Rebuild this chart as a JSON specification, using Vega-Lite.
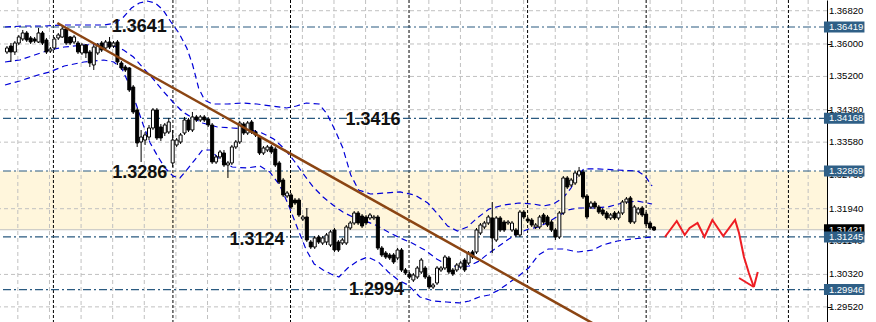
{
"$schema": "https://vega.github.io/schema/vega-lite/v6.json",
"width": 827, "height": 322, "padding": {"left": 0, "top": 0, "right": 49, "bottom": 0}, "autosize": "none",
"background": "white",
"config": {"view": {"stroke": null}, "font": "Liberation Sans"},
"datasets": {
"zone": [{"top": 1.32869, "bottom": 1.31421}],
"ticks": [{"p":1.3682},{"p":1.36},{"p":1.352},{"p":1.3438},{"p":1.3358},{"p":1.3276},{"p":1.3194},{"p":1.3114},{"p":1.3032},{"p":1.2952}],
"hgrid": [{"p":1.3682},{"p":1.36},{"p":1.352},{"p":1.3438},{"p":1.3358},{"p":1.3194},{"p":1.3032},{"p":1.2952}],
"vgrid": [{"i":2.75},{"i":10.77},{"i":18.78},{"i":26.79},{"i":34.8},{"i":42.82},{"i":50.83},{"i":58.84},{"i":66.85},{"i":74.87},{"i":82.88},{"i":90.89},{"i":98.9},{"i":106.92},{"i":114.93},{"i":122.94},{"i":130.95},{"i":138.96},{"i":146.98},{"i":154.99},{"i":163.0},{"i":171.01},{"i":179.03},{"i":187.04},{"i":195.05},{"i":203.06}],
"seps": [{"i":11.77},{"i":42.06},{"i":71.86},{"i":101.9},{"i":131.95},{"i":162.0},{"i":198.06}],
"bid": [{"p":1.31421,"t":"1.31421"}],
"levels": [{"p":1.36419,"t":"1.36419"},{"p":1.34168,"t":"1.34168"},{"p":1.32869,"t":"1.32869"},{"p":1.31245,"t":"1.31245"},{"p":1.29946,"t":"1.29946"}],
"trend": [{"i":12.77,"p":1.36517},{"i":148.48,"p":1.29115}],
"arrow": [
{"s":"z","k":1,"i":166.76,"p":1.31242},{"s":"z","k":2,"i":169.76,"p":1.31637},{"s":"z","k":3,"i":171.77,"p":1.31292},{"s":"z","k":4,"i":173.02,"p":1.31464},{"s":"z","k":5,"i":175.02,"p":1.31587},{"s":"z","k":6,"i":176.77,"p":1.31242},{"s":"z","k":7,"i":178.78,"p":1.31661},{"s":"z","k":8,"i":181.53,"p":1.31267},{"s":"z","k":9,"i":184.54,"p":1.31661},{"s":"z","k":10,"i":185.54,"p":1.31341},{"s":"z","k":11,"i":186.79,"p":1.30749},{"s":"z","k":12,"i":188.04,"p":1.30355},{"s":"z","k":13,"i":189.29,"p":1.30010},
{"s":"a","k":1,"i":185.54,"p":1.30232},{"s":"a","k":2,"i":189.29,"p":1.30010},
{"s":"b","k":1,"i":190.29,"p":1.30380},{"s":"b","k":2,"i":189.29,"p":1.30010}],
"labels": [{"i":33.55,"p":1.36296,"t":"1.3641"},{"i":92.77,"p":1.34003,"t":"1.3416"},{"i":33.68,"p":1.32697,"t":"1.3286"},{"i":63.35,"p":1.31045,"t":"1.3124"},{"i":93.64,"p":1.29813,"t":"1.2994"}],
"bands": [
{"b":"u","i":-0.5,"p":1.36418},{"b":"u","i":4.51,"p":1.36443},{"b":"u","i":9.51,"p":1.36443},{"b":"u","i":14.52,"p":1.36468},{"b":"u","i":19.53,"p":1.36468},{"b":"u","i":24.54,"p":1.36468},{"b":"u","i":27.54,"p":1.36517},{"b":"u","i":29.54,"p":1.36665},{"b":"u","i":31.55,"p":1.36887},{"b":"u","i":33.55,"p":1.3701},{"b":"u","i":35.55,"p":1.37059},{"b":"u","i":37.56,"p":1.3701},{"b":"u","i":39.56,"p":1.36838},{"b":"u","i":41.56,"p":1.36542},{"b":"u","i":43.57,"p":1.36271},{"b":"u","i":45.57,"p":1.35901},{"b":"u","i":47.07,"p":1.35482},{"b":"u","i":48.57,"p":1.34915},{"b":"u","i":50.08,"p":1.34619},{"b":"u","i":52.08,"p":1.3452},{"b":"u","i":55.83,"p":1.3452},{"b":"u","i":59.59,"p":1.34545},{"b":"u","i":63.35,"p":1.3452},{"b":"u","i":67.1,"p":1.34471},{"b":"u","i":70.86,"p":1.34422},{"b":"u","i":73.36,"p":1.34471},{"b":"u","i":75.86,"p":1.34545},{"b":"u","i":79.12,"p":1.3452},{"b":"u","i":81.12,"p":1.34274},{"b":"u","i":83.12,"p":1.3388},{"b":"u","i":85.13,"p":1.33436},{"b":"u","i":87.13,"p":1.32771},{"b":"u","i":89.13,"p":1.32401},{"b":"u","i":92.14,"p":1.32302},{"b":"u","i":95.89,"p":1.32327},{"b":"u","i":99.65,"p":1.32352},{"b":"u","i":103.4,"p":1.32278},{"b":"u","i":106.66,"p":1.3208},{"b":"u","i":109.16,"p":1.31809},{"b":"u","i":111.67,"p":1.31513},{"b":"u","i":114.17,"p":1.3139},{"b":"u","i":116.68,"p":1.31489},{"b":"u","i":119.18,"p":1.31711},{"b":"u","i":122.18,"p":1.31932},{"b":"u","i":125.94,"p":1.32031},{"b":"u","i":129.69,"p":1.3208},{"b":"u","i":133.45,"p":1.32056},{"b":"u","i":135.95,"p":1.32006},{"b":"u","i":138.46,"p":1.32056},{"b":"u","i":140.96,"p":1.32204},{"b":"u","i":142.96,"p":1.3245},{"b":"u","i":144.72,"p":1.32771},{"b":"u","i":146.22,"p":1.32919},{"b":"u","i":149.72,"p":1.32919},{"b":"u","i":154.73,"p":1.32894},{"b":"u","i":159.74,"p":1.3287},{"b":"u","i":161.74,"p":1.32746},{"b":"u","i":163.5,"p":1.32499},
{"b":"m","i":-0.5,"p":1.35556},{"b":"m","i":3.25,"p":1.35605},{"b":"m","i":7.01,"p":1.35729},{"b":"m","i":10.77,"p":1.35852},{"b":"m","i":14.52,"p":1.35925},{"b":"m","i":19.53,"p":1.35975},{"b":"m","i":24.54,"p":1.35999},{"b":"m","i":27.04,"p":1.3595},{"b":"m","i":29.54,"p":1.35852},{"b":"m","i":32.05,"p":1.35679},{"b":"m","i":34.55,"p":1.35408},{"b":"m","i":37.06,"p":1.35137},{"b":"m","i":39.56,"p":1.34841},{"b":"m","i":42.06,"p":1.3457},{"b":"m","i":44.57,"p":1.34324},{"b":"m","i":47.07,"p":1.34176},{"b":"m","i":49.57,"p":1.34052},{"b":"m","i":53.33,"p":1.33954},{"b":"m","i":57.09,"p":1.33929},{"b":"m","i":60.84,"p":1.33905},{"b":"m","i":64.6,"p":1.33806},{"b":"m","i":67.6,"p":1.33658},{"b":"m","i":70.11,"p":1.33436},{"b":"m","i":72.61,"p":1.3314},{"b":"m","i":75.11,"p":1.32796},{"b":"m","i":77.62,"p":1.32475},{"b":"m","i":80.12,"p":1.32228},{"b":"m","i":82.62,"p":1.32031},{"b":"m","i":85.13,"p":1.31858},{"b":"m","i":87.63,"p":1.31735},{"b":"m","i":90.14,"p":1.31661},{"b":"m","i":93.39,"p":1.31538},{"b":"m","i":96.64,"p":1.31366},{"b":"m","i":99.65,"p":1.31218},{"b":"m","i":102.65,"p":1.31094},{"b":"m","i":105.91,"p":1.30922},{"b":"m","i":108.91,"p":1.307},{"b":"m","i":111.67,"p":1.30552},{"b":"m","i":114.67,"p":1.30503},{"b":"m","i":117.18,"p":1.30527},{"b":"m","i":119.68,"p":1.30651},{"b":"m","i":122.18,"p":1.30848},{"b":"m","i":124.69,"p":1.3102},{"b":"m","i":127.19,"p":1.31193},{"b":"m","i":129.69,"p":1.31341},{"b":"m","i":132.2,"p":1.31439},{"b":"m","i":134.7,"p":1.31489},{"b":"m","i":137.21,"p":1.31612},{"b":"m","i":139.71,"p":1.3176},{"b":"m","i":142.21,"p":1.31908},{"b":"m","i":144.72,"p":1.31957},{"b":"m","i":148.47,"p":1.31957},{"b":"m","i":152.23,"p":1.31982},{"b":"m","i":155.98,"p":1.3208},{"b":"m","i":159.74,"p":1.3213},{"b":"m","i":163.5,"p":1.32056},
{"b":"l","i":-0.5,"p":1.34989},{"b":"l","i":3.25,"p":1.35087},{"b":"l","i":7.01,"p":1.35211},{"b":"l","i":10.77,"p":1.3531},{"b":"l","i":14.52,"p":1.35457},{"b":"l","i":19.53,"p":1.35556},{"b":"l","i":24.54,"p":1.35605},{"b":"l","i":27.04,"p":1.35556},{"b":"l","i":29.04,"p":1.35408},{"b":"l","i":31.05,"p":1.34989},{"b":"l","i":32.8,"p":1.34496},{"b":"l","i":34.55,"p":1.34003},{"b":"l","i":36.3,"p":1.3356},{"b":"l","i":38.31,"p":1.33215},{"b":"l","i":40.06,"p":1.32943},{"b":"l","i":42.06,"p":1.32746},{"b":"l","i":43.82,"p":1.32697},{"b":"l","i":45.57,"p":1.32894},{"b":"l","i":47.57,"p":1.3314},{"b":"l","i":49.57,"p":1.33387},{"b":"l","i":51.58,"p":1.33387},{"b":"l","i":54.08,"p":1.3314},{"b":"l","i":57.09,"p":1.32968},{"b":"l","i":60.84,"p":1.32943},{"b":"l","i":64.1,"p":1.32993},{"b":"l","i":66.6,"p":1.32845},{"b":"l","i":69.1,"p":1.32524},{"b":"l","i":71.36,"p":1.32031},{"b":"l","i":73.61,"p":1.31464},{"b":"l","i":75.86,"p":1.30922},{"b":"l","i":77.87,"p":1.30577},{"b":"l","i":80.12,"p":1.30429},{"b":"l","i":82.12,"p":1.3033},{"b":"l","i":84.13,"p":1.30256},{"b":"l","i":86.38,"p":1.30478},{"b":"l","i":88.88,"p":1.30651},{"b":"l","i":91.39,"p":1.30749},{"b":"l","i":94.14,"p":1.30626},{"b":"l","i":96.64,"p":1.3038},{"b":"l","i":99.15,"p":1.30182},{"b":"l","i":101.65,"p":1.30059},{"b":"l","i":104.66,"p":1.29764},{"b":"l","i":107.91,"p":1.29665},{"b":"l","i":111.42,"p":1.2964},{"b":"l","i":114.67,"p":1.29616},{"b":"l","i":117.18,"p":1.29665},{"b":"l","i":119.68,"p":1.29764},{"b":"l","i":122.18,"p":1.29813},{"b":"l","i":124.69,"p":1.29936},{"b":"l","i":127.19,"p":1.30108},{"b":"l","i":129.69,"p":1.30281},{"b":"l","i":132.2,"p":1.30478},{"b":"l","i":134.7,"p":1.30799},{"b":"l","i":137.21,"p":1.30947},{"b":"l","i":140.96,"p":1.30947},{"b":"l","i":144.72,"p":1.30873},{"b":"l","i":148.47,"p":1.30922},{"b":"l","i":150.98,"p":1.31045},{"b":"l","i":154.73,"p":1.31144},{"b":"l","i":158.49,"p":1.31193},{"b":"l","i":163.5,"p":1.31242}],
"candles": [
{"i":0,"o":1.35803,"h":1.3595,"l":1.35753,"c":1.35901},
{"i":1,"o":1.3595,"h":1.36024,"l":1.35556,"c":1.35803},
{"i":2,"o":1.35803,"h":1.36073,"l":1.35729,"c":1.36024},
{"i":3,"o":1.36024,"h":1.36222,"l":1.35975,"c":1.36172},
{"i":4,"o":1.36123,"h":1.36345,"l":1.36073,"c":1.36271},
{"i":5,"o":1.36271,"h":1.3632,"l":1.36049,"c":1.36098},
{"i":6,"o":1.36148,"h":1.36197,"l":1.35999,"c":1.36049},
{"i":7,"o":1.36123,"h":1.36172,"l":1.36024,"c":1.36073},
{"i":8,"o":1.36049,"h":1.36394,"l":1.36024,"c":1.36271},
{"i":9,"o":1.36271,"h":1.3632,"l":1.35975,"c":1.36024},
{"i":10,"o":1.36098,"h":1.36148,"l":1.35753,"c":1.35803},
{"i":11,"o":1.35827,"h":1.35925,"l":1.35778,"c":1.35876},
{"i":12,"o":1.35901,"h":1.36172,"l":1.35852,"c":1.36123},
{"i":13,"o":1.36148,"h":1.36271,"l":1.36098,"c":1.36222},
{"i":14,"o":1.36172,"h":1.36443,"l":1.36148,"c":1.36369},
{"i":15,"o":1.36369,"h":1.36418,"l":1.35975,"c":1.36024},
{"i":16,"o":1.36172,"h":1.36197,"l":1.35975,"c":1.36024},
{"i":17,"o":1.36049,"h":1.36222,"l":1.35999,"c":1.36172},
{"i":18,"o":1.36024,"h":1.36073,"l":1.35753,"c":1.35803},
{"i":19,"o":1.35778,"h":1.36024,"l":1.35729,"c":1.35975},
{"i":20,"o":1.35975,"h":1.35999,"l":1.35655,"c":1.35778},
{"i":21,"o":1.35803,"h":1.35852,"l":1.35432,"c":1.35531},
{"i":22,"o":1.35482,"h":1.35975,"l":1.35359,"c":1.35925},
{"i":23,"o":1.35778,"h":1.36024,"l":1.35729,"c":1.35975},
{"i":24,"o":1.36024,"h":1.36073,"l":1.35803,"c":1.35852},
{"i":25,"o":1.35901,"h":1.36098,"l":1.35852,"c":1.36049},
{"i":26,"o":1.36049,"h":1.36172,"l":1.35876,"c":1.35925},
{"i":27,"o":1.3595,"h":1.36073,"l":1.35901,"c":1.36024},
{"i":28,"o":1.36049,"h":1.36098,"l":1.35482,"c":1.35556},
{"i":29,"o":1.35531,"h":1.3558,"l":1.35359,"c":1.35408},
{"i":30,"o":1.35432,"h":1.35482,"l":1.3531,"c":1.35359},
{"i":31,"o":1.35408,"h":1.35432,"l":1.34817,"c":1.34866},
{"i":32,"o":1.3494,"h":1.34989,"l":1.34274,"c":1.34324},
{"i":33,"o":1.34373,"h":1.34422,"l":1.33461,"c":1.3356},
{"i":34,"o":1.33584,"h":1.3388,"l":1.33091,"c":1.33707},
{"i":35,"o":1.33633,"h":1.3383,"l":1.3351,"c":1.33757},
{"i":36,"o":1.33707,"h":1.34003,"l":1.33633,"c":1.33929},
{"i":37,"o":1.33929,"h":1.34422,"l":1.3388,"c":1.34373},
{"i":38,"o":1.34373,"h":1.34422,"l":1.33633,"c":1.33683},
{"i":39,"o":1.33954,"h":1.34027,"l":1.33609,"c":1.33683},
{"i":40,"o":1.33806,"h":1.34052,"l":1.33732,"c":1.34003},
{"i":41,"o":1.3383,"h":1.34176,"l":1.33781,"c":1.34077},
{"i":42,"o":1.33067,"h":1.3388,"l":1.32968,"c":1.33633},
{"i":43,"o":1.3351,"h":1.33683,"l":1.33461,"c":1.33633},
{"i":44,"o":1.33584,"h":1.33806,"l":1.33535,"c":1.33757},
{"i":45,"o":1.33806,"h":1.34201,"l":1.33757,"c":1.34126},
{"i":46,"o":1.34126,"h":1.34176,"l":1.3383,"c":1.3388},
{"i":47,"o":1.3388,"h":1.34324,"l":1.3383,"c":1.34201},
{"i":48,"o":1.34201,"h":1.3425,"l":1.34077,"c":1.34126},
{"i":49,"o":1.34126,"h":1.3425,"l":1.34077,"c":1.34201},
{"i":50,"o":1.34201,"h":1.3425,"l":1.34077,"c":1.34126},
{"i":51,"o":1.34151,"h":1.34201,"l":1.33954,"c":1.34003},
{"i":52,"o":1.34003,"h":1.34052,"l":1.33042,"c":1.33091},
{"i":53,"o":1.33091,"h":1.33264,"l":1.33042,"c":1.33215},
{"i":54,"o":1.33215,"h":1.33387,"l":1.33165,"c":1.33338},
{"i":55,"o":1.33313,"h":1.33387,"l":1.32968,"c":1.33017},
{"i":56,"o":1.33017,"h":1.33116,"l":1.32697,"c":1.33067},
{"i":57,"o":1.33067,"h":1.3351,"l":1.33017,"c":1.33461},
{"i":58,"o":1.33461,"h":1.33633,"l":1.33412,"c":1.33584},
{"i":59,"o":1.33584,"h":1.34101,"l":1.33535,"c":1.34052},
{"i":60,"o":1.34027,"h":1.34077,"l":1.33757,"c":1.33806},
{"i":61,"o":1.33806,"h":1.34101,"l":1.33757,"c":1.34052},
{"i":62,"o":1.34077,"h":1.34126,"l":1.33781,"c":1.3383},
{"i":63,"o":1.3383,"h":1.3388,"l":1.33707,"c":1.33757},
{"i":64,"o":1.33707,"h":1.33757,"l":1.33264,"c":1.33313},
{"i":65,"o":1.33313,"h":1.33486,"l":1.33264,"c":1.33436},
{"i":66,"o":1.33387,"h":1.3351,"l":1.33338,"c":1.33461},
{"i":67,"o":1.33461,"h":1.3351,"l":1.33288,"c":1.33338},
{"i":68,"o":1.33412,"h":1.33461,"l":1.32968,"c":1.33017},
{"i":69,"o":1.33067,"h":1.33116,"l":1.32549,"c":1.32598},
{"i":70,"o":1.32647,"h":1.32697,"l":1.32228,"c":1.32278},
{"i":71,"o":1.32253,"h":1.32376,"l":1.32204,"c":1.32327},
{"i":72,"o":1.32278,"h":1.32327,"l":1.31932,"c":1.31982},
{"i":73,"o":1.32154,"h":1.32204,"l":1.32031,"c":1.3208},
{"i":74,"o":1.32154,"h":1.32204,"l":1.31735,"c":1.31785},
{"i":75,"o":1.31686,"h":1.31785,"l":1.31637,"c":1.31735},
{"i":76,"o":1.31735,"h":1.31957,"l":1.31119,"c":1.31168},
{"i":77,"o":1.31119,"h":1.31168,"l":1.30947,"c":1.30996},
{"i":78,"o":1.30996,"h":1.31267,"l":1.30947,"c":1.31218},
{"i":79,"o":1.31242,"h":1.31292,"l":1.3107,"c":1.31119},
{"i":80,"o":1.31094,"h":1.31267,"l":1.31045,"c":1.31218},
{"i":81,"o":1.31119,"h":1.31341,"l":1.31045,"c":1.31292},
{"i":82,"o":1.31045,"h":1.31415,"l":1.30996,"c":1.31366},
{"i":83,"o":1.31415,"h":1.31464,"l":1.30873,"c":1.30922},
{"i":84,"o":1.31119,"h":1.31168,"l":1.30873,"c":1.30922},
{"i":85,"o":1.31094,"h":1.31218,"l":1.31045,"c":1.31168},
{"i":86,"o":1.31094,"h":1.31538,"l":1.31045,"c":1.31489},
{"i":87,"o":1.31464,"h":1.31637,"l":1.31415,"c":1.31587},
{"i":88,"o":1.31587,"h":1.31883,"l":1.31538,"c":1.31834},
{"i":89,"o":1.31834,"h":1.31883,"l":1.31538,"c":1.31587},
{"i":90,"o":1.3176,"h":1.31809,"l":1.31464,"c":1.31513},
{"i":91,"o":1.31735,"h":1.31785,"l":1.31538,"c":1.31587},
{"i":92,"o":1.31711,"h":1.31834,"l":1.31661,"c":1.31785},
{"i":93,"o":1.31711,"h":1.31785,"l":1.31661,"c":1.31735},
{"i":94,"o":1.31735,"h":1.31785,"l":1.30922,"c":1.30971},
{"i":95,"o":1.30971,"h":1.3102,"l":1.30749,"c":1.30799},
{"i":96,"o":1.30848,"h":1.30897,"l":1.307,"c":1.30749},
{"i":97,"o":1.30799,"h":1.30848,"l":1.30675,"c":1.30725},
{"i":98,"o":1.30799,"h":1.30848,"l":1.30577,"c":1.30626},
{"i":99,"o":1.30725,"h":1.30971,"l":1.30675,"c":1.30922},
{"i":100,"o":1.30922,"h":1.30971,"l":1.3038,"c":1.30429},
{"i":101,"o":1.30429,"h":1.30478,"l":1.30306,"c":1.30355},
{"i":102,"o":1.3033,"h":1.3038,"l":1.30207,"c":1.30256},
{"i":103,"o":1.30182,"h":1.30355,"l":1.30133,"c":1.30306},
{"i":104,"o":1.30256,"h":1.30527,"l":1.30207,"c":1.30478},
{"i":105,"o":1.3038,"h":1.30725,"l":1.3033,"c":1.30675},
{"i":106,"o":1.30478,"h":1.30527,"l":1.30207,"c":1.30256},
{"i":107,"o":1.30256,"h":1.30306,"l":1.2996,"c":1.3001},
{"i":108,"o":1.3001,"h":1.30108,"l":1.2996,"c":1.30059},
{"i":109,"o":1.30108,"h":1.30527,"l":1.30059,"c":1.30478},
{"i":110,"o":1.30429,"h":1.30527,"l":1.3038,"c":1.30478},
{"i":111,"o":1.30478,"h":1.30799,"l":1.30429,"c":1.30749},
{"i":112,"o":1.30725,"h":1.30774,"l":1.3033,"c":1.3038},
{"i":113,"o":1.30429,"h":1.30478,"l":1.30281,"c":1.3033},
{"i":114,"o":1.30429,"h":1.30601,"l":1.3038,"c":1.30552},
{"i":115,"o":1.30503,"h":1.30651,"l":1.30454,"c":1.30601},
{"i":116,"o":1.30675,"h":1.30725,"l":1.3038,"c":1.30429},
{"i":117,"o":1.30601,"h":1.30897,"l":1.30552,"c":1.30848},
{"i":118,"o":1.30873,"h":1.30922,"l":1.307,"c":1.30749},
{"i":119,"o":1.30873,"h":1.31464,"l":1.30823,"c":1.31415},
{"i":120,"o":1.31341,"h":1.31587,"l":1.31292,"c":1.31538},
{"i":121,"o":1.31489,"h":1.31637,"l":1.31439,"c":1.31587},
{"i":122,"o":1.31587,"h":1.31785,"l":1.31538,"c":1.31735},
{"i":123,"o":1.31711,"h":1.32105,"l":1.30848,"c":1.31218},
{"i":124,"o":1.31168,"h":1.3176,"l":1.31119,"c":1.31711},
{"i":125,"o":1.31711,"h":1.3176,"l":1.31366,"c":1.31415},
{"i":126,"o":1.31612,"h":1.31661,"l":1.31366,"c":1.31415},
{"i":127,"o":1.31587,"h":1.31661,"l":1.31538,"c":1.31612},
{"i":128,"o":1.31415,"h":1.31637,"l":1.31366,"c":1.31587},
{"i":129,"o":1.31415,"h":1.31464,"l":1.31242,"c":1.31292},
{"i":130,"o":1.31292,"h":1.31908,"l":1.31242,"c":1.31858},
{"i":131,"o":1.31858,"h":1.31908,"l":1.31686,"c":1.31735},
{"i":132,"o":1.31686,"h":1.31735,"l":1.31587,"c":1.31637},
{"i":133,"o":1.31661,"h":1.31711,"l":1.31489,"c":1.31538},
{"i":134,"o":1.31489,"h":1.31587,"l":1.31439,"c":1.31538},
{"i":135,"o":1.31489,"h":1.31785,"l":1.31439,"c":1.31735},
{"i":136,"o":1.31785,"h":1.31834,"l":1.31563,"c":1.31612},
{"i":137,"o":1.31735,"h":1.31785,"l":1.31489,"c":1.31538},
{"i":138,"o":1.31612,"h":1.31661,"l":1.31366,"c":1.31415},
{"i":139,"o":1.31415,"h":1.31464,"l":1.31168,"c":1.31242},
{"i":140,"o":1.31242,"h":1.31883,"l":1.31193,"c":1.31834},
{"i":141,"o":1.31834,"h":1.32746,"l":1.31785,"c":1.32697},
{"i":142,"o":1.32697,"h":1.32746,"l":1.32426,"c":1.32475},
{"i":143,"o":1.32524,"h":1.32697,"l":1.32475,"c":1.32647},
{"i":144,"o":1.32574,"h":1.3287,"l":1.32524,"c":1.3282},
{"i":145,"o":1.32771,"h":1.32968,"l":1.32722,"c":1.3287},
{"i":146,"o":1.32845,"h":1.32894,"l":1.32179,"c":1.32228},
{"i":147,"o":1.32253,"h":1.32302,"l":1.31686,"c":1.31735},
{"i":148,"o":1.31982,"h":1.3213,"l":1.31932,"c":1.3208},
{"i":149,"o":1.3208,"h":1.3213,"l":1.31932,"c":1.31982},
{"i":150,"o":1.31982,"h":1.32031,"l":1.31809,"c":1.31858},
{"i":151,"o":1.31908,"h":1.31957,"l":1.3176,"c":1.31809},
{"i":152,"o":1.31834,"h":1.31883,"l":1.31661,"c":1.31711},
{"i":153,"o":1.31711,"h":1.31834,"l":1.31661,"c":1.31785},
{"i":154,"o":1.31834,"h":1.31883,"l":1.31661,"c":1.31711},
{"i":155,"o":1.31711,"h":1.31883,"l":1.31661,"c":1.31834},
{"i":156,"o":1.31834,"h":1.32154,"l":1.31785,"c":1.32105},
{"i":157,"o":1.32105,"h":1.32228,"l":1.32056,"c":1.32179},
{"i":158,"o":1.32204,"h":1.32253,"l":1.31563,"c":1.31612},
{"i":159,"o":1.31612,"h":1.32031,"l":1.31563,"c":1.31982},
{"i":160,"o":1.31834,"h":1.31982,"l":1.31785,"c":1.31932},
{"i":161,"o":1.31957,"h":1.32006,"l":1.31735,"c":1.31785},
{"i":162,"o":1.31809,"h":1.31858,"l":1.31513,"c":1.31563},
{"i":163,"o":1.31587,"h":1.31637,"l":1.31415,"c":1.31464},
{"i":164,"o":1.31489,"h":1.31513,"l":1.3139,"c":1.31415}]
},
"layer": [
{"data": {"name": "zone"}, "mark": {"type": "rect", "color": "#fff6dc"},
 "encoding": {
  "y": {"field": "top", "type": "quantitative", "title": null, "scale": {"domain": [1.29147, 1.37084], "nice": false, "zero": false},
   "axis": {"orient": "right", "values": [1.2952, 1.3032, 1.3114, 1.3194, 1.3276, 1.3358, 1.3438, 1.352, 1.36, 1.3682], "title": null, "grid": false, "domain": true, "domainColor": "#000000", "domainWidth": 1, "ticks": true, "tickColor": "#000000", "tickSize": 4, "labels": false}},
  "y2": {"field": "bottom"}}},
{"data": {"name": "hgrid"}, "mark": {"type": "rule", "color": "#c0c0c0", "strokeDash": [4, 3], "strokeWidth": 1},
 "encoding": {"y": {"field": "p", "type": "quantitative", "title": null}}},
{"data": {"name": "vgrid"}, "mark": {"type": "rule", "color": "#c0c0c0", "strokeDash": [4, 3], "strokeWidth": 1},
 "encoding": {"x": {"field": "i", "type": "quantitative", "scale": {"domain": [-0.5008, 206.57], "nice": false, "zero": false}, "axis": null}}},
{"data": {"name": "seps"}, "mark": {"type": "rule", "color": "#000000", "strokeDash": [3, 2], "strokeWidth": 1},
 "encoding": {"x": {"field": "i", "type": "quantitative", "axis": null}}},
{"data": {"name": "bid"}, "mark": {"type": "rule", "color": "#c0c0c0", "strokeWidth": 1},
 "encoding": {"y": {"field": "p", "type": "quantitative", "title": null}}},
{"data": {"name": "levels"}, "mark": {"type": "rule", "color": "#2a5a80", "strokeDash": [8, 3, 2, 3], "strokeWidth": 1.2},
 "encoding": {"y": {"field": "p", "type": "quantitative", "title": null}}},
{"data": {"name": "bands"}, "mark": {"type": "line", "color": "#0000d8", "strokeDash": [6, 4], "strokeWidth": 1.2},
 "encoding": {"x": {"field": "i", "type": "quantitative", "axis": null}, "y": {"field": "p", "type": "quantitative", "title": null}, "detail": {"field": "b"}}},
{"data": {"name": "candles"}, "mark": {"type": "rule", "color": "#000000", "strokeWidth": 1},
 "encoding": {"x": {"field": "i", "type": "quantitative", "axis": null}, "y": {"field": "h", "type": "quantitative", "title": null}, "y2": {"field": "l"}}},
{"data": {"name": "candles"}, "mark": {"type": "bar", "width": 3, "stroke": "#000000", "strokeWidth": 1},
 "encoding": {"x": {"field": "i", "type": "quantitative", "axis": null}, "y": {"field": "o", "type": "quantitative", "title": null}, "y2": {"field": "c"},
  "fill": {"condition": {"test": "datum.c > datum.o", "value": "#ffffff"}, "value": "#000000"}}},
{"data": {"name": "trend"}, "mark": {"type": "line", "color": "#8b4513", "strokeWidth": 2.5, "clip": true},
 "encoding": {"x": {"field": "i", "type": "quantitative", "axis": null}, "y": {"field": "p", "type": "quantitative", "title": null}}},
{"data": {"name": "arrow"}, "mark": {"type": "line", "color": "#ee1d23", "strokeWidth": 2},
 "encoding": {"x": {"field": "i", "type": "quantitative", "axis": null}, "y": {"field": "p", "type": "quantitative", "title": null}, "detail": {"field": "s"}, "order": {"field": "k"}}},
{"data": {"name": "labels"}, "mark": {"type": "text", "font": "Liberation Sans", "fontSize": 18, "fontWeight": "bold", "color": "#111111", "align": "center", "baseline": "alphabetic"},
 "encoding": {"x": {"field": "i", "type": "quantitative", "axis": null}, "y": {"field": "p", "type": "quantitative", "title": null}, "text": {"field": "t"}}},
{"data": {"name": "ticks"}, "mark": {"type": "text", "font": "Liberation Sans", "fontSize": 9.5, "color": "#000000", "align": "left", "baseline": "middle"},
 "encoding": {"x": {"datum": 208.32, "type": "quantitative"}, "y": {"field": "p", "type": "quantitative", "title": null}, "text": {"field": "p", "type": "quantitative", "format": ".5f"}}},
{"data": {"name": "bid"}, "mark": {"type": "rule", "color": "#000000", "strokeWidth": 11},
 "encoding": {"x": {"datum": 207.07, "type": "quantitative"}, "x2": {"datum": 217.33}, "y": {"field": "p", "type": "quantitative", "title": null}}},
{"data": {"name": "bid"}, "mark": {"type": "text", "font": "Liberation Sans", "fontSize": 9.5, "color": "#ffffff", "align": "left", "baseline": "middle"},
 "encoding": {"x": {"datum": 208.32, "type": "quantitative"}, "y": {"field": "p", "type": "quantitative", "title": null}, "text": {"field": "t"}}},
{"data": {"name": "levels"}, "mark": {"type": "rule", "color": "#2f5f86", "strokeWidth": 11},
 "encoding": {"x": {"datum": 207.07, "type": "quantitative"}, "x2": {"datum": 217.33}, "y": {"field": "p", "type": "quantitative", "title": null}}},
{"data": {"name": "levels"}, "mark": {"type": "text", "font": "Liberation Sans", "fontSize": 9.5, "color": "#ffffff", "align": "left", "baseline": "middle"},
 "encoding": {"x": {"datum": 208.32, "type": "quantitative"}, "y": {"field": "p", "type": "quantitative", "title": null}, "text": {"field": "t"}}}
]
}
